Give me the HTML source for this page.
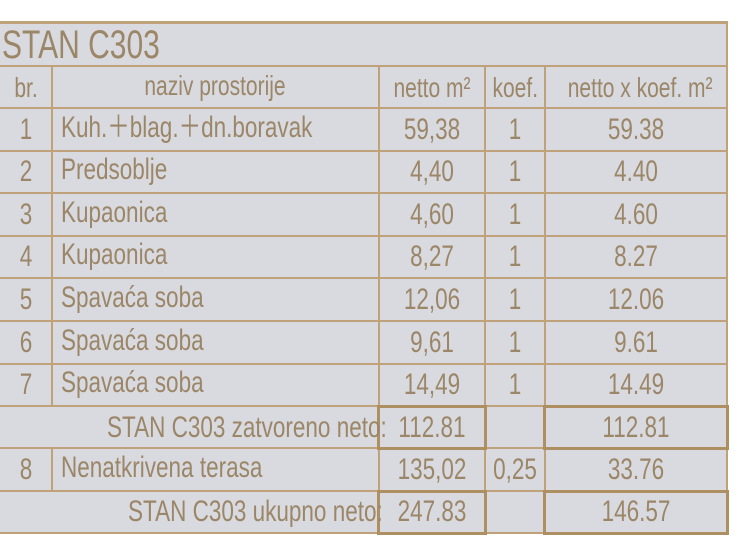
<!DOCTYPE html>
<html><head><meta charset="utf-8"><style>
body{margin:0;width:740px;height:550px;background:#fff;position:relative;overflow:hidden;font-family:"Liberation Sans",sans-serif;color:#9c8668}
.bg{position:absolute;left:0;top:22px;width:727px;height:511px;background:#d8dadf}
.h{position:absolute;left:0;width:727px;height:2px;background:#c0a27a}
.v{position:absolute;width:2px;background:#c0a27a}
.t{position:absolute;white-space:nowrap;font-size:30px;line-height:42px;height:42px;transform:scaleX(0.75);transform-origin:left center}
.c{text-align:center;transform-origin:center center}
.box{position:absolute;border:3px solid #ad8f62;box-sizing:border-box}
</style></head><body>
<div class="bg"></div>
<div class="h" style="top:21px;height:3px"></div>
<div class="h" style="top:65px"></div>
<div class="h" style="top:107px"></div>
<div class="h" style="top:150px"></div>
<div class="h" style="top:192px"></div>
<div class="h" style="top:235px"></div>
<div class="h" style="top:277px"></div>
<div class="h" style="top:320px"></div>
<div class="h" style="top:363px"></div>
<div class="h" style="top:405px"></div>
<div class="h" style="top:447px"></div>
<div class="h" style="top:490px"></div>
<div class="h" style="top:532px"></div>
<div class="v" style="left:726px;top:21px;height:513px"></div>
<div class="v" style="left:51px;top:66px;height:340px"></div>
<div class="v" style="left:51px;top:448px;height:43px"></div>
<div class="v" style="left:378px;top:66px;height:467px"></div>
<div class="v" style="left:484px;top:66px;height:467px"></div>
<div class="v" style="left:544px;top:66px;height:467px"></div>
<div class="box" style="left:377px;top:405px;width:110px;height:45px"></div>
<div class="box" style="left:543px;top:405px;width:186px;height:45px"></div>
<div class="box" style="left:377px;top:490px;width:110px;height:45px"></div>
<div class="box" style="left:543px;top:490px;width:186px;height:45px"></div>
<div class="t" style="left:2px;top:23px;font-size:40px;height:44px;line-height:44px;transform:scaleX(0.75)">STAN C303</div>
<div class="t c" style="left:0;width:52px;top:67px;font-size:28px">br.</div>
<div class="t c" style="left:52px;width:326px;top:65px;font-size:28px">naziv prostorije</div>
<div class="t c" style="left:379px;width:106px;top:67px;font-size:28px">netto m²</div>
<div class="t c" style="left:485px;width:60px;top:67px;font-size:28px">koef.</div>
<div class="t c" style="left:545px;width:182px;top:67px;font-size:28px">netto x koef. m²</div>

<div class="t c" style="left:0;width:52px;top:109px">1</div><div class="t" style="left:61px;top:107px">Kuh.＋blag.＋dn.boravak</div><div class="t c" style="left:379px;width:106px;top:109px">59,38</div><div class="t c" style="left:485px;width:60px;top:109px">1</div><div class="t c" style="left:545px;width:182px;top:109px">59.38</div>
<div class="t c" style="left:0;width:52px;top:151px">2</div><div class="t" style="left:61px;top:149px">Predsoblje</div><div class="t c" style="left:379px;width:106px;top:151px">4,40</div><div class="t c" style="left:485px;width:60px;top:151px">1</div><div class="t c" style="left:545px;width:182px;top:151px">4.40</div>
<div class="t c" style="left:0;width:52px;top:194px">3</div><div class="t" style="left:61px;top:192px">Kupaonica</div><div class="t c" style="left:379px;width:106px;top:194px">4,60</div><div class="t c" style="left:485px;width:60px;top:194px">1</div><div class="t c" style="left:545px;width:182px;top:194px">4.60</div>
<div class="t c" style="left:0;width:52px;top:236px">4</div><div class="t" style="left:61px;top:234px">Kupaonica</div><div class="t c" style="left:379px;width:106px;top:236px">8,27</div><div class="t c" style="left:485px;width:60px;top:236px">1</div><div class="t c" style="left:545px;width:182px;top:236px">8.27</div>
<div class="t c" style="left:0;width:52px;top:279px">5</div><div class="t" style="left:61px;top:277px">Spavaća soba</div><div class="t c" style="left:379px;width:106px;top:279px">12,06</div><div class="t c" style="left:485px;width:60px;top:279px">1</div><div class="t c" style="left:545px;width:182px;top:279px">12.06</div>
<div class="t c" style="left:0;width:52px;top:322px">6</div><div class="t" style="left:61px;top:320px">Spavaća soba</div><div class="t c" style="left:379px;width:106px;top:322px">9,61</div><div class="t c" style="left:485px;width:60px;top:322px">1</div><div class="t c" style="left:545px;width:182px;top:322px">9.61</div>
<div class="t c" style="left:0;width:52px;top:364px">7</div><div class="t" style="left:61px;top:362px">Spavaća soba</div><div class="t c" style="left:379px;width:106px;top:364px">14,49</div><div class="t c" style="left:485px;width:60px;top:364px">1</div><div class="t c" style="left:545px;width:182px;top:364px">14.49</div>
<div class="t" style="left:107px;top:407px">STAN C303 zatvoreno neto:</div><div class="t c" style="left:379px;width:106px;top:407px">112.81</div><div class="t c" style="left:545px;width:182px;top:407px">112.81</div>
<div class="t c" style="left:0;width:52px;top:449px">8</div><div class="t" style="left:61px;top:447px">Nenatkrivena terasa</div><div class="t c" style="left:379px;width:106px;top:449px">135,02</div><div class="t c" style="left:485px;width:60px;top:449px">0,25</div><div class="t c" style="left:545px;width:182px;top:449px">33.76</div>
<div class="t" style="left:128px;top:491px">STAN C303 ukupno neto:</div><div class="t c" style="left:379px;width:106px;top:491px">247.83</div><div class="t c" style="left:545px;width:182px;top:491px">146.57</div>
</body></html>
